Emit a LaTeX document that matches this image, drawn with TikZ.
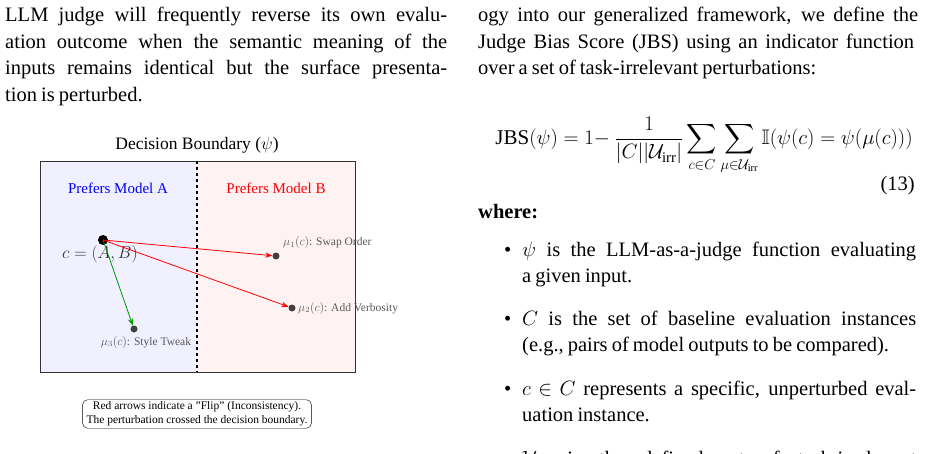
\documentclass[tikz,border=0pt]{standalone}
\usepackage{amsmath,amssymb}
\usepackage{fontspec}
\setmainfont{Liberation Serif}
\usetikzlibrary{arrows.meta}
\newcommand{\tsp}{\spaceskip=0.2em plus 0.6em minus 0.1em\relax}
\tikzset{
 para/.style={anchor=base west,inner sep=0pt,font=\fontsize{20.5}{26}\selectfont,execute at begin node=\tsp},
 pt/.style={circle,fill=black!75,inner sep=0pt,minimum size=7pt},
 lbl/.style={text=black!65,font=\fontsize{11.5}{13}\selectfont,inner sep=0pt},
 flip/.style={draw=red,thick,-{Stealth[length=7pt]}},
 keep/.style={draw=green!60!black,thick,-{Stealth[length=7pt]}}
}
\newcommand{\jline}[1]{\hbox to 442pt{#1}}
\newcommand{\bline}[1]{\hbox to 394pt{#1}}
\begin{document}
\begin{tikzpicture}[x=1pt,y=-1pt]
\useasboundingbox (0,0) rectangle (936,454);
\clip (0,0) rectangle (936,454);
\fill[white] (0,0) rectangle (936,454);
% left column
\node[para] (l1) at (5,22) {\jline{LLM judge will frequently reverse its own evalu-}};
\node[para] (l2) at (5,48.5) {\jline{ation outcome when the semantic meaning of the}};
\node[para] (l3) at (5,75) {\jline{inputs remains identical but the surface presenta-}};
\node[para] (l4) at (5,101.5) {tion is perturbed.};
% right column
\node[para] (r1) at (478,22) {\hbox to 440pt{ogy into our generalized framework, we define the}};
\node[para] (r2) at (478,48.5) {\hbox to 436pt{Judge Bias Score (JBS) using an indicator function}};
\node[para] (r3) at (478,75) {over a set of task-irrelevant perturbations:};
\node[font=\fontsize{21}{26}\selectfont,inner sep=0pt] (eq) at (704,146) {$\displaystyle \mathrm{JBS}(\psi)=1\mkern-4mu-\frac{1}{|C||\mathcal{U}_{\text{irr}}|}\sum_{c\in C}\sum_{\mu\in\mathcal{U}_{\text{irr}}}\mathbb{I}(\psi(c)=\psi(\mu(c)))$};
\node[para,anchor=base east] (eqn) at (915,191) {(13)};
\node[para] (where) at (478,219) {\bfseries where:};
\foreach \y/\t in {256/{\bline{$\psi$ is the LLM-as-a-judge function evaluating}},282.5/{a given input.},325/{\bline{$C$ is the set of baseline evaluation instances}},351.5/{(e.g., pairs of model outputs to be compared).},395/{\bline{$c\in C$ represents a specific, unperturbed eval-}},421.5/{uation instance.},465/{\bline{$\mathcal{U}_{\text{irr}}$ is the defined set of task-irrelevant}}}
  \node[para] at (522,\y) {\t};
\foreach \y in {256,325,395,465} \node[para] at (504,\y) {\textbullet};
% diagram
\fill[blue!6] (40,161) rectangle (197,372);
\fill[red!5] (197,161) rectangle (355,372);
\draw[thick,black!80] (40,161) rectangle (355,372);
\draw[very thick,dashed] (197,161) -- (197,372);
\node[font=\fontsize{17.5}{19}\selectfont] (title) at (197,145) {Decision Boundary ($\psi$)};
\node[text=blue,font=\fontsize{15}{17}\selectfont] (pa) at (118,188) {Prefers Model A};
\node[text=red,font=\fontsize{15}{17}\selectfont] (pb) at (276,188) {Prefers Model B};
\node[circle,fill=black,inner sep=0pt,minimum size=10pt] (c) at (103,240) {};
\node[font=\fontsize{16}{18}\selectfont,text=black!80] (cl) at (100,254) {$c=(A,B)$};
\node[pt] (m1) at (276,256) {};
\node[pt] (m2) at (292,308) {};
\node[pt] (m3) at (134,329) {};
\node[lbl,anchor=west] (m1l) at (283,243) {$\mu_1(c)$: Swap Order};
\node[lbl,anchor=west] (m2l) at (298,308) {$\mu_2(c)$: Add Verbosity};
\node[lbl] (m3l) at (146,342) {$\mu_3(c)$: Style Tweak};
\draw[flip] (c.center) -- (m1);
\draw[flip] (c.center) -- (m2);
\draw[keep] (c.center) -- (m3);
\node[draw,rounded corners=5pt,align=center,font=\fontsize{11.5}{14}\selectfont,inner xsep=4pt,inner ysep=2pt] (note) at (197,414) {Red arrows indicate a "Flip" (Inconsistency).\\The perturbation crossed the decision boundary.};
\end{tikzpicture}
\end{document}
